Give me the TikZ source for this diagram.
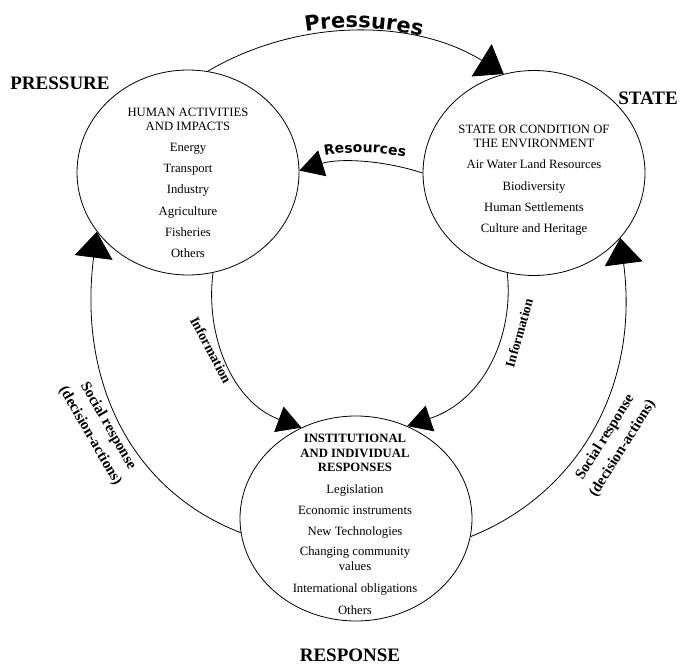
\documentclass[tikz,border=0pt]{standalone}
\usepackage{fontspec}
\setmainfont{Liberation Serif}
\newfontfamily\decofont{DejaVu Sans}
\usetikzlibrary{shapes.geometric,arrows.meta,decorations.text}
\begin{document}
\begin{tikzpicture}[x=1pt,y=-1pt,
  ell/.style={ellipse, draw, line width=0.8pt, inner sep=0pt},
  conn/.style={line width=0.8pt},
  bigtip/.style={-{Triangle[length=26pt,width=38pt]}},
  smalltip/.style={-{Triangle[length=24pt,width=27pt]}},
  itemtxt/.style={align=center, inner sep=0pt, font=\fontsize{12.7}{14.5}\selectfont},
  biglabel/.style={font=\bfseries\fontsize{19}{19}\selectfont, inner sep=0pt},
  flowlbl/.style={font=\bfseries\fontsize{14}{14}\selectfont, inner sep=0pt},
  sociallbl/.style={align=center, font=\bfseries\fontsize{15}{20.5}\selectfont, inner sep=0pt},
]
\useasboundingbox (0,0) rectangle (680,666);

% circles
\node[ell, minimum width=222pt, minimum height=205pt] (P) at (188,172.5) {};
\node[ell, minimum width=222pt, minimum height=205pt] (S) at (534,173) {};
\node[ell, minimum width=232pt, minimum height=205pt] (R) at (356,518.5) {};

% texts in circles
\node[itemtxt] (Pt) at (188,183) {HUMAN ACTIVITIES\\AND IMPACTS\\[6pt]Energy\\[6.8pt]Transport\\[6.8pt]Industry\\[6.8pt]Agriculture\\[6.8pt]Fisheries\\[6.8pt]Others};
\node[itemtxt] (St) at (534,180.3) {STATE OR CONDITION OF\\THE ENVIRONMENT\\[6.5pt]Air Water Land Resources\\[6.8pt]Biodiversity\\[6.8pt]Human Settlements\\[6.8pt]Culture and Heritage};
\node[itemtxt] (Rt) at (355,524.4) {\textbf{INSTITUTIONAL}\\\textbf{AND INDIVIDUAL}\\\textbf{RESPONSES}\\[7.5pt]Legislation\\[6.5pt]Economic instruments\\[6.5pt]New Technologies\\[5.5pt]Changing community\\[0.5pt]values\\[7.5pt]International obligations\\[7.5pt]Others};

% big labels
\node[biglabel] (pl) at (60,83) {PRESSURE};
\node[biglabel] (sl) at (648,98) {STATE};
\node[biglabel] (rl) at (350,655) {RESPONSE};

% connectors
\draw[conn,bigtip] (P.79) .. controls (300,17) and (415,19) .. (S.107);
\draw[conn,smalltip] (S.180) .. controls (383,160) and (339,158) .. (P.1);
\draw[conn,smalltip] (P.284) .. controls (205,335) and (232,402) .. (R.121);
\draw[conn,smalltip] (S.255) .. controls (514,335) and (485,400) .. (R.61);
\draw[conn,bigtip] (R.187) .. controls (130,490) and (78,380) .. (P.213);
\draw[conn,bigtip] (R.-9) .. controls (575,495) and (640,390) .. (S.-37);

% arched labels
\path[decorate,decoration={text along path, text align=center,
  text={|\decofont\bfseries\fontsize{21}{21}\selectfont|Pressures}}]
  (241.8,50.4) .. controls (320,17.5) and (408.8,20.9) .. (484.2,59.7);
\path[decorate,decoration={text along path, text align=center,
  text={|\decofont\bfseries\fontsize{14}{14}\selectfont|Resources}}]
  (306,159.3) .. controls (344.7,149.6) and (385.3,150.3) .. (423.7,161.3);

% flow labels
\node[flowlbl, rotate=-62] (infoL) at (211,350) {Information};
\node[flowlbl, rotate=74, font=\bfseries\fontsize{13.5}{13.5}\selectfont] (infoR) at (519,333) {Information};
\node[sociallbl, rotate=-60] (socL) at (99,431) {Social response\\(decision-actions)};
\node[sociallbl, rotate=58] (socR) at (614,443) {Social response\\(decision-actions)};
\end{tikzpicture}
\end{document}
